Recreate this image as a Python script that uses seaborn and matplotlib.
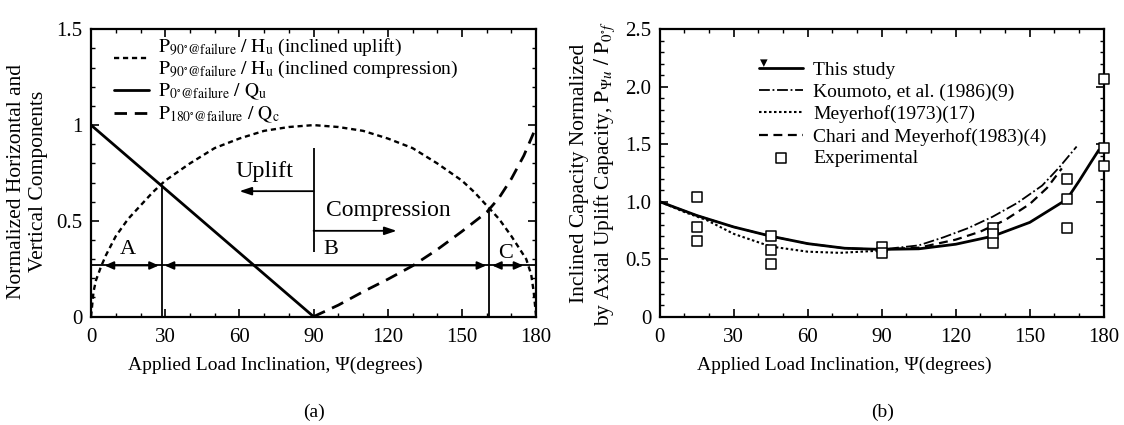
import numpy as np
import matplotlib
matplotlib.use("Agg")
import matplotlib.pyplot as plt
import seaborn as sns
from matplotlib.ticker import MultipleLocator, FixedLocator, FixedFormatter

# ---------------- data: panel (a) ----------------
# horizontal-component ratio P90/Hu (dotted arch)
psi_h = [0, 1, 2, 4, 6, 10, 15, 20, 25, 30, 40, 50, 60, 70, 80, 90,
         100, 110, 120, 130, 140, 150, 155, 160, 165, 170, 174, 176, 178, 179, 180]
ratio_h = [0.0, 0.13, 0.19, 0.26, 0.32, 0.42, 0.51, 0.58, 0.65, 0.71, 0.80, 0.88, 0.93, 0.97, 0.99, 1.0,
           0.99, 0.97, 0.93, 0.88, 0.80, 0.71, 0.65, 0.58, 0.51, 0.42, 0.34, 0.30, 0.22, 0.13, 0.0]
# vertical-component ratio for uplift P0/Qu (solid)
psi_up = [0, 90]
ratio_up = [1.0, 0.0]
# vertical-component ratio for compression P180/Qc (dashed)
psi_comp = [90, 100, 110, 120, 130, 140, 150, 160, 165, 170, 175, 179]
ratio_comp = [0.0, 0.06, 0.13, 0.195, 0.265, 0.35, 0.445, 0.545, 0.62, 0.72, 0.84, 0.96]
# zone boundaries (A | B | C) and the level of the zone line
zone_psi = [4.3, 28.6, 161.0, 176.0]
zone_top = [0.686, 0.558]          # heights of the two boundary verticals
zone_level = 0.267
zone_names = ["A", "B", "C"]
zone_label_psi = [15.0, 94.0, 167.7]
zone_label_val = [0.35, 0.35, 0.33]

# ---------------- data: panel (b) ----------------
psi_study = [0, 15, 30, 45, 60, 75, 90, 105, 120, 135, 150, 165, 170, 175, 178]
cap_study = [1.0, 0.88, 0.78, 0.70, 0.635, 0.595, 0.585, 0.59, 0.63, 0.70, 0.82, 1.02, 1.18, 1.35, 1.45]
psi_koumoto = [0, 15, 30, 45, 60, 75, 90, 105, 115, 125, 135, 145, 155, 162, 169]
cap_koumoto = [1.0, 0.88, 0.78, 0.70, 0.635, 0.595, 0.585, 0.62, 0.69, 0.77, 0.87, 0.99, 1.14, 1.30, 1.48]
psi_meyerhof = [0, 10, 19, 30, 45, 60, 73, 90]
cap_meyerhof = [1.0, 0.91, 0.84, 0.72, 0.61, 0.565, 0.555, 0.575]
psi_chari = [90, 105, 120, 130, 140, 150, 157, 163]
cap_chari = [0.585, 0.60, 0.67, 0.74, 0.84, 0.98, 1.12, 1.29]
psi_exp = [15, 15, 15, 45, 45, 45, 90, 90, 135, 135, 135, 165, 165, 165, 180, 180, 180]
cap_exp = [1.04, 0.78, 0.66, 0.70, 0.58, 0.46, 0.61, 0.55, 0.77, 0.72, 0.64, 1.20, 1.02, 0.77, 2.07, 1.47, 1.31]

x_ticks = [0, 30, 60, 90, 120, 150, 180]
ya_ticks = [0, 0.5, 1.0, 1.5]
ya_labels = ["0", "0.5", "1", "1.5"]
yb_ticks = [0, 0.5, 1.0, 1.5, 2.0, 2.5]
yb_labels = ["0", "0.5", "1.0", "1.5", "2.0", "2.5"]

# ---------------- style ----------------
sns.set_theme(style="ticks")
plt.rcParams["font.family"] = ["Liberation Serif", "DejaVu Serif"]
plt.rcParams["mathtext.fontset"] = "stix"
plt.rcParams["axes.linewidth"] = 1.6
plt.rcParams["axes.edgecolor"] = "black"
plt.rcParams["text.color"] = "black"
plt.rcParams["axes.labelcolor"] = "black"
plt.rcParams["xtick.color"] = "black"
plt.rcParams["ytick.color"] = "black"

FS = 14
fig = plt.figure(figsize=(11.24, 4.25), dpi=100)
ax_a = fig.add_axes([0.081, 0.255, 0.396, 0.676])
ax_b = fig.add_axes([0.587, 0.255, 0.395, 0.676])


def style_axes(ax, yticks, ylabels, ymax, yminor):
    ax.set_xlim(0, 180)
    ax.set_ylim(0, ymax)
    ax.xaxis.set_major_locator(FixedLocator(x_ticks))
    ax.xaxis.set_minor_locator(MultipleLocator(10))
    ax.yaxis.set_major_locator(FixedLocator(yticks))
    ax.yaxis.set_major_formatter(FixedFormatter(ylabels))
    ax.yaxis.set_minor_locator(MultipleLocator(yminor))
    ax.tick_params(which="both", direction="in", top=True, right=True, labelsize=15)
    ax.tick_params(which="major", length=6, width=1.2)
    ax.tick_params(axis="x", which="major", pad=8)
    ax.tick_params(axis="y", which="major", pad=6)
    ax.tick_params(which="minor", length=3, width=1.0)
    ax.set_xlabel("Applied Load Inclination, Ψ(degrees)", fontsize=FS, labelpad=7, x=0.415)
    ax.grid(False)


# ---------------- panel (a) ----------------
h_line, = ax_a.plot(psi_h, ratio_h, color="black", lw=1.7, ls=(0, (2.2, 1.6)))
u_line, = ax_a.plot(psi_up, ratio_up, color="black", lw=2.0)
c_line, = ax_a.plot(psi_comp, ratio_comp, color="black", lw=2.0, ls=(0, (4.5, 2.8)))

ax_a.axhline(zone_level, color="black", lw=1.3)
ax_a.vlines(zone_psi[1:3], 0, zone_top, color="black", lw=1.3)
arrow_kw = dict(arrowstyle="<|-|>,head_length=0.45,head_width=0.2", color="black", lw=1.3,
                shrinkA=0, shrinkB=0)
for x0, x1 in zip(zone_psi[:-1], zone_psi[1:]):
    ax_a.annotate("", xy=(x1 - 1.2, zone_level), xytext=(x0 + 1.2, zone_level), arrowprops=arrow_kw)
for name, xp, yp in zip(zone_names, zone_label_psi, zone_label_val):
    ax_a.text(xp, yp, name, fontsize=FS + 2, ha="center" if name != "B" else "left", va="center")

# uplift / compression marker at 90 degrees
ax_a.vlines(90, 0.34, 0.88, color="black", lw=1.3)
one_arrow = dict(arrowstyle="-|>,head_length=0.6,head_width=0.2", color="black", lw=1.3,
                 shrinkA=0, shrinkB=0)
ax_a.annotate("", xy=(60, 0.655), xytext=(90, 0.655), arrowprops=one_arrow)
ax_a.annotate("", xy=(123.6, 0.448), xytext=(90, 0.448), arrowprops=one_arrow)
ax_a.text(70, 0.76, "Uplift", fontsize=17.5, ha="center", va="center")
ax_a.text(95, 0.555, "Compression", fontsize=17, ha="left", va="center")

style_axes(ax_a, ya_ticks, ya_labels, 1.5, 0.1)
ax_a.set_ylabel("Normalized Horizontal and\nVertical Components", fontsize=FS + 1.5, labelpad=6,
                y=0.47)

lab_h = ("$\\mathrm{P}_{90^{\\circ}\\mathrm{@failure}}\\ /\\ \\mathrm{H_u}$ (inclined uplift)\n"
         "$\\mathrm{P}_{90^{\\circ}\\mathrm{@failure}}\\ /\\ \\mathrm{H_u}$ (inclined compression)")
lab_u = "$\\mathrm{P}_{0^{\\circ}\\mathrm{@failure}}\\ /\\ \\mathrm{Q_u}$"
lab_c = "$\\mathrm{P}_{180^{\\circ}\\mathrm{@failure}}\\ /\\ \\mathrm{Q_c}$"
leg_a = ax_a.legend([h_line, u_line, c_line], [lab_h, lab_u, lab_c], loc="upper left",
                    bbox_to_anchor=(0.02, 1.022), frameon=False, fontsize=14, handlelength=1.8,
                    handletextpad=0.5, labelspacing=0.12, borderaxespad=0.3)
leg_a.get_texts()[0].set_linespacing(1.05)

# ---------------- panel (b) ----------------
s_line, = ax_b.plot(psi_study, cap_study, color="black", lw=2.0)
k_line, = ax_b.plot(psi_koumoto, cap_koumoto, color="black", lw=1.3, ls=(0, (6, 1.5, 1, 1.5)))
m_line, = ax_b.plot(psi_meyerhof, cap_meyerhof, color="black", lw=1.5, ls=(0, (1.2, 1.2)))
ch_line, = ax_b.plot(psi_chari, cap_chari, color="black", lw=1.6, ls=(0, (4, 2.5)))
exp_pts = sns.scatterplot(x=psi_exp, y=cap_exp, ax=ax_b, marker="s", s=45, facecolor="white",
                          edgecolor="black", linewidth=1.1, zorder=3, clip_on=False)
exp_handle = exp_pts.collections[-1]

style_axes(ax_b, yb_ticks, yb_labels, 2.5, 0.1)
ax_b.set_ylabel("Inclined Capacity Normalized\nby Axial Uplift Capacity, "
                "$\\mathrm{P}_{\\Psi u}\\ /\\ \\mathrm{P}_{0^{\\circ}f}$", fontsize=FS + 1.5, labelpad=6)

ax_b.legend([s_line, k_line, m_line, ch_line, exp_handle],
            ["This study", "Koumoto, et al. (1986)(9)", "Meyerhof(1973)(17)",
             "Chari and Meyerhof(1983)(4)", "Experimental"],
            loc="upper left", bbox_to_anchor=(0.205, 0.915), frameon=False, fontsize=14,
            handlelength=2.3, handletextpad=0.5, labelspacing=0.22, borderaxespad=0.0)
ax_b.text(42, 2.2, "▾", fontsize=11, ha="center", va="center")

# panel captions
fig.text(0.279, 0.02, "(a)", fontsize=FS, ha="center")
fig.text(0.785, 0.02, "(b)", fontsize=FS, ha="center")

fig.savefig("out.png", dpi=100, facecolor="white")
